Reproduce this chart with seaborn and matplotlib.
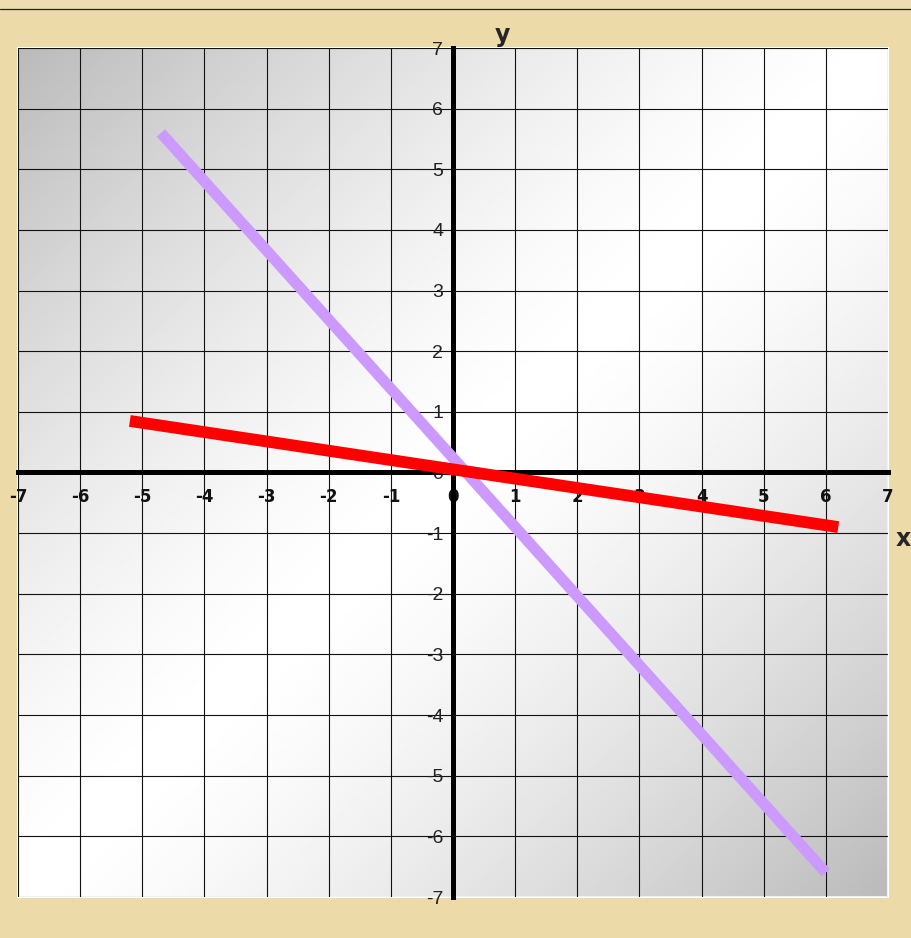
import numpy as np
import pandas as pd
import matplotlib.pyplot as plt
import matplotlib.patches as mpatches
from matplotlib.lines import Line2D
import seaborn as sns

# line endpoints
red_x = [-5.2, 6.2]
red_y = [0.85, -0.9]
purple_x = [-4.7, 6.0]
purple_y = [5.6, -6.6]
navy_x = [0.0, 0.0]
navy_y = [3.0, 1.5]
ticks = list(range(-7, 8))

sns.set_theme(style='white')
plt.rcParams['font.family'] = ['DejaVu Sans']
plt.rcParams['axes.unicode_minus'] = False

W, H = 912, 938
fig = plt.figure(figsize=(W / 100, H / 100), dpi=100, facecolor='#ECDAA8')
# lighter band at the very top with a thin dark rule
fig.add_artist(mpatches.Rectangle((0, 1 - 9 / H), 1, 9 / H, transform=fig.transFigure,
                                  color='#EEDDB0', zorder=0))
fig.add_artist(Line2D([0, 1], [1 - 9.5 / H, 1 - 9.5 / H], transform=fig.transFigure,
                      color='#222222', lw=0.9))

ax = fig.add_axes([18 / W, (H - 897) / H, (888 - 18) / W, (897 - 48) / H])

# diagonal grey gradient for the plot area
gx, gy = np.meshgrid(np.linspace(0, 1, 300), np.linspace(0, 1, 300))
u = (gx + gy) / 2
shade = 1 - 0.27 * np.abs(2 * u - 1) ** 1.4
ax.imshow(shade, cmap='gray', vmin=0, vmax=1, extent=[-7, 7, -7, 7],
          origin='upper', aspect='auto', zorder=0, interpolation='bilinear')
ax.add_patch(mpatches.Rectangle((0, 0), 1, 1, transform=ax.transAxes, fill=False,
                                edgecolor='white', lw=1.5, zorder=0.5, clip_on=False))

df_red = pd.DataFrame({'x': red_x, 'y': red_y})
df_purple = pd.DataFrame({'x': purple_x, 'y': purple_y})
df_navy = pd.DataFrame({'x': navy_x, 'y': navy_y})

sns.lineplot(data=df_purple, x='x', y='y', ax=ax, color='#CC99FF', lw=8,
             sort=False, zorder=4, solid_capstyle='butt')
sns.lineplot(data=df_red, x='x', y='y', ax=ax, color='#FF0000', lw=8.5,
             sort=False, zorder=5, solid_capstyle='butt')

ax.set_xlim(-7, 7)
ax.set_ylim(-7, 7)
ax.set_xticks(ticks)
ax.set_yticks(ticks)
ax.grid(True, color='#111111', lw=0.8, zorder=1)
ax.set_axisbelow(False)

for s in ['top', 'right']:
    ax.spines[s].set_visible(False)
for s in ['left', 'bottom']:
    ax.spines[s].set_position(('data', 0))
    ax.spines[s].set_linewidth(3.6)
    ax.spines[s].set_color('black')
    ax.spines[s].set_zorder(3)
ax.spines['left'].set_bounds(-7, 7)
ax.spines['bottom'].set_bounds(-7, 7)

sns.lineplot(data=df_navy, x='x', y='y', ax=ax, color='#000066', lw=1.8,
             sort=False, zorder=3.5)

ax.tick_params(axis='both', direction='out', length=3, width=4, color='black')
ax.tick_params(axis='x', pad=8, labelsize=12)
ax.tick_params(axis='y', pad=4, labelsize=14)
for lab in ax.get_xticklabels():
    lab.set_fontweight('bold')
    lab.set_color('#111111')
for lab in ax.get_yticklabels():
    lab.set_family(['Liberation Sans', 'DejaVu Sans'])
    lab.set_color('#222222')

ax.set_xlabel('')
ax.set_ylabel('')
ax.text(0.8, 7.02, 'y', fontsize=17, fontweight='bold', ha='center', va='bottom')
ax.text(7.25, -1.1, 'x', fontsize=17, fontweight='bold', ha='center', va='center',
        clip_on=False)

fig.savefig('out.png', dpi=100, facecolor=fig.get_facecolor())
